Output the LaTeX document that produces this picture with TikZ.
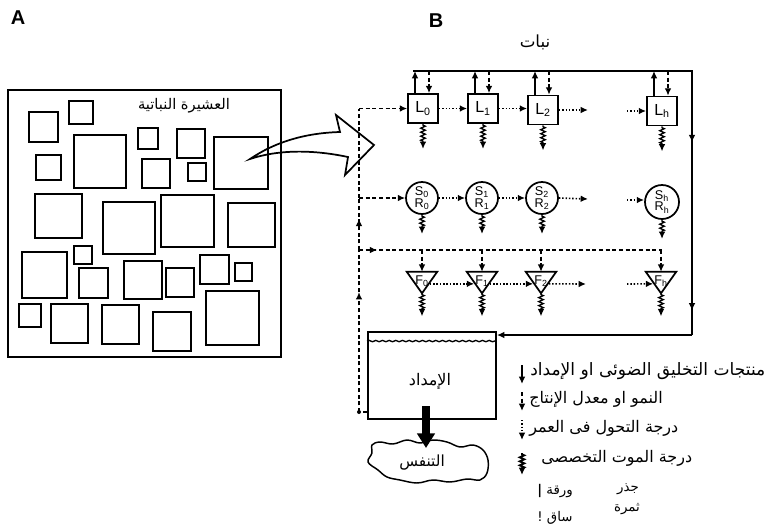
\documentclass[tikz,border=0pt]{standalone}
\usepackage{fontspec}
\setmainfont{Liberation Sans}
\newfontfamily\arabicfont[Script=Arabic]{DejaVu Sans}
\TeXXeTstate=1
\usetikzlibrary{arrows.meta,decorations.pathmorphing,decorations.markings}
\newcommand{\artxt}[1]{{\arabicfont\beginR #1\endR}}
\tikzset{
  tip/.tip={Latex[length=5.5pt,width=5pt]},
  solidarrow/.style={line width=1.1pt,-tip},
  dashline/.style={line width=1pt,dash pattern=on 3pt off 2pt},
  dasharrow/.style={dashline,-tip},
  dotarrow/.style={line width=1.2pt,dash pattern=on 1.1pt off 1.4pt,-tip},
  squig/.style={line width=1pt,decorate,decoration={zigzag,segment length=3pt,amplitude=1.7pt,pre length=1pt,post length=5pt},-tip},
  lbox/.style={draw,line width=1.3pt,minimum width=22.5pt,minimum height=21.75pt,inner sep=0pt,font=\fontsize{12}{12}\selectfont},
  srcirc/.style={circle,draw,line width=1.3pt,minimum size=24pt,inner sep=0pt,align=center,font=\fontsize{9.5}{8.5}\selectfont},
  fbox/.style={minimum width=22.5pt,minimum height=15.75pt,inner sep=0pt,font=\fontsize{9.5}{9}\selectfont},
  tri/.style={line width=1.3pt,line join=miter},
  sq/.style={draw,line width=1.3pt},
  artext/.style={inner sep=0pt,font=\fontsize{12}{14}\selectfont},
  panel/.style={inner sep=0pt,font=\fontsize{15}{15}\selectfont\bfseries},
  midarr/.style={postaction={decorate},decoration={markings,mark=at position #1 with {\arrow{tip}}}}
}
\begin{document}
\begin{tikzpicture}[x=0.75pt,y=-0.75pt]
\useasboundingbox (0,0) rectangle (771,529);

% panel labels
\node[panel] (pA) at (18,18) {A};
\node[panel] (pB) at (436,21) {B};

% ---------- Panel A ----------
\draw[line width=1.5pt] (8,90) rectangle (281,357);
\node[artext,font=\fontsize{11}{13}\selectfont] (titleA) at (184,106) {\artxt{العشيرة النباتية}};
\foreach \a/\b/\c/\d in {
  29/112/58/142, 69/101/93/124, 74/135/126/188, 36/155/61/180,
  138/128/158/149, 177/129/205/158, 142/159/170/188, 188/163/206/181,
  214/137/268/189, 35/194/82/238, 103/202/155/254, 161/195/214/247,
  228/203/275/247, 22/252/67/298, 74/246/92/264, 79/268/108/298,
  124/261/162/299, 166/268/194/297, 200/255/229/284, 235/263/252/281,
  19/304/41/327, 51/304/88/343, 102/305/139/344, 153/312/191/351,
  206/291/259/345}
  \draw[sq] (\a,\b) rectangle (\c,\d);

% big curved arrow A -> B
\draw[line width=1.3pt,line join=miter]
  (250,159) .. controls (275,142) and (305,133) .. (340,132)
  -- (336,115) -- (374,145) -- (345,175) -- (348,157)
  .. controls (315,150) and (280,149) .. (250,159) -- cycle;

% ---------- Panel B ----------
\node[artext,font=\fontsize{12.5}{14}\selectfont] (plant) at (535,42) {\artxt{نبات}};

% L row
\node[lbox] (L0) at (423,108.5) {L\textsubscript{0}};
\node[lbox] (L1) at (483,108.5) {L\textsubscript{1}};
\node[lbox] (L2) at (543,110) {L\textsubscript{2}};
\node[lbox] (Lh) at (662,111) {L\textsubscript{h}};
% S/R row
\node[srcirc] (S0) at (422,198) {S\textsubscript{0}\\R\textsubscript{0}};
\node[srcirc] (S1) at (482,198) {S\textsubscript{1}\\R\textsubscript{1}};
\node[srcirc] (S2) at (542,198) {S\textsubscript{2}\\R\textsubscript{2}};
\node[srcirc,minimum size=25.5pt] (Sh) at (662,202) {S\textsubscript{h}\\R\textsubscript{h}};
% F row
\foreach \n/\x/\s in {F0/422/0,F1/482/1,F2/541/2,Fh/661/h}{
  \node[fbox] (\n) at (\x,282.5) {};
  \draw[tri] (\n.north west) -- (\n.north east) -- (\n.south) -- cycle;
  \node[fbox,inner sep=0pt] at ([yshift=1pt]\n.center) {F\textsubscript{\s}};
}

% top bus and right return
\coordinate (bustl) at (413,71);
\coordinate (bustr) at (692,71);
\coordinate (busbr) at (692,335);
\draw[line width=1.4pt,decoration={markings,
   mark=at position 0.645 with {\arrow{tip}},
   mark=at position 0.955 with {\arrow{tip}}},postaction={decorate}]
  (bustl) -- (bustr) -- (busbr);

% supply box
\node[draw,line width=1.4pt,minimum width=96pt,minimum height=65.25pt,inner sep=0pt] (sup) at (432,375.5) {};
\node[artext] (suptxt) at (430,381) {\artxt{الإمداد}};
\draw[line width=1pt,decorate,decoration={snake,amplitude=0.5pt,segment length=5pt}]
  ([yshift=-7.5pt]sup.north west) -- ([yshift=-7.5pt]sup.north east);
\draw[line width=1.4pt,-tip] (busbr) -- (busbr -| sup.east);

% L to bus connections
\foreach \n in {L0,L1,L2,Lh}{
  \draw[solidarrow] ([xshift=-6pt]\n.north) -- ([xshift=-6pt]\n.north |- bustl);
  \draw[dasharrow] ([xshift=4.5pt]\n.north |- bustl) -- ([xshift=4.5pt]\n.north);
}

% squiggles (specific mortality)
\foreach \n in {L0,L1,L2,Lh}{\draw[squig] (\n.south) -- ++(0,25);}
\foreach \n in {S0,S1,S2,Sh}{\draw[squig] (\n.south) -- ++(0,19);}
\foreach \n in {F0,F1,F2,Fh}{\draw[squig] (\n.south) -- ++(0,23);}

% dotted transfers (aging)
\coordinate (Lnext) at (588,110);
\coordinate (Lprev) at (627,111);
\coordinate (Snext) at (588,199);
\coordinate (Sprev) at (627,200);
\coordinate (Fnext) at (586,284);
\coordinate (Fprev) at (627,284);
\draw[dotarrow] (L0) -- (L1);
\draw[dotarrow] (L1.east) -- (L2.west |- L1.east);
\draw[dotarrow] (L2.east) -- (Lnext);
\draw[dotarrow] (Lprev) -- (Lh.west);
\draw[dotarrow] (S0) -- (S1);
\draw[dotarrow] (S1) -- (S2);
\draw[dotarrow] (S2.east) -- (Snext);
\draw[dotarrow] (Sprev) -- (Sh.west |- Sprev);
\draw[dotarrow] ([xshift=-5.6pt,yshift=-1pt]F0.east) -- ([xshift=5.6pt,yshift=-1pt]F1.west);
\draw[dotarrow] ([xshift=-5.6pt,yshift=-1pt]F1.east) -- ([xshift=5.6pt,yshift=-1pt]F2.west);
\draw[dotarrow] ([xshift=-5.6pt,yshift=-1pt]F2.east) -- (Fnext);
\draw[dotarrow] (Fprev) -- ([xshift=5.6pt,yshift=-1pt]Fh.west);

% left dashed supply network
\coordinate (lv1) at (359,108.5);
\coordinate (lv2) at (359,198);
\coordinate (lv3) at (359,250);
\coordinate (lvb) at (359,412);
\coordinate (lh3) at (662,250);
\draw[dashline] (sup.west |- lvb) -- (lvb);
\fill (lvb) circle (2);
\draw[dashline,midarr=0.74] (lvb) -- (lv3);
\draw[dashline,midarr=0.6] (lv3) -- (lv2);
\draw[dashline] (lv2) -- (lv1);
\draw[dasharrow] (lv1) -- (L0);
\draw[dasharrow] (lv2) -- (S0);
\draw[dashline,midarr=0.06] (lv3) -- (lh3);
\foreach \n in {F0,F1,F2,Fh}{\draw[dasharrow] (\n.north |- lv3) -- (\n.north);}

% respiration
\coordinate (cloudtop) at (426,448);
\draw[line width=1.1pt,fill=white]
  plot[smooth cycle,tension=0.6] coordinates {
   (372,445) (380,442) (393,444) (407,440) (420,443) (433,440) (447,442)
   (460,447) (473,445) (483,450) (488,460) (487,473) (480,480) (467,479)
   (450,482) (433,480) (417,483) (400,480) (387,477) (378,470) (368,462) (372,453)};
\draw[line width=5.5pt,-{Triangle[length=11pt,width=13pt]}] (426,406) -- (cloudtop);
\node[artext,font=\fontsize{11.5}{13}\selectfont] (resp) at (422,463) {\artxt{التنفس}};

% ---------- legend ----------
\coordinate (k1a) at (522,365); \coordinate (k1b) at (522,384);
\coordinate (k2a) at (522,392); \coordinate (k2b) at (522,411);
\coordinate (k3a) at (522,420); \coordinate (k3b) at (522,440);
\coordinate (k4a) at (522,453); \coordinate (k4b) at (522,475);
\draw[solidarrow,line width=1.6pt] (k1a) -- (k1b);
\draw[dasharrow,line width=1.4pt] (k2a) -- (k2b);
\draw[dotarrow,line width=1.6pt] (k3a) -- (k3b);
\draw[squig,line width=1.4pt] (k4a) -- (k4b);
\node[artext,anchor=west,font=\fontsize{12.8}{14}\selectfont] (t1) at (530,371) {\artxt{منتجات التخليق الضوئى او الإمداد}};
\node[artext,anchor=west] (t2) at (529,399) {\artxt{النمو او معدل الإنتاج}};
\node[artext,anchor=west] (t3) at (529,428) {\artxt{درجة التحول فى العمر}};
\node[artext,anchor=west] (t4) at (541,458) {\artxt{درجة الموت التخصصى}};
\node[artext,font=\fontsize{10}{12}\selectfont] (root) at (628,489) {\artxt{جذر}};
\node[artext,font=\fontsize{10}{12}\selectfont] (leaf) at (555,491) {\artxt{ورقة \textbf{|}}};
\node[artext,font=\fontsize{10}{12}\selectfont] (fruit) at (627,509) {\artxt{ثمرة}};
\node[artext,font=\fontsize{10}{12}\selectfont] (stem) at (555,518) {\artxt{ساق !}};
\end{tikzpicture}
\end{document}
